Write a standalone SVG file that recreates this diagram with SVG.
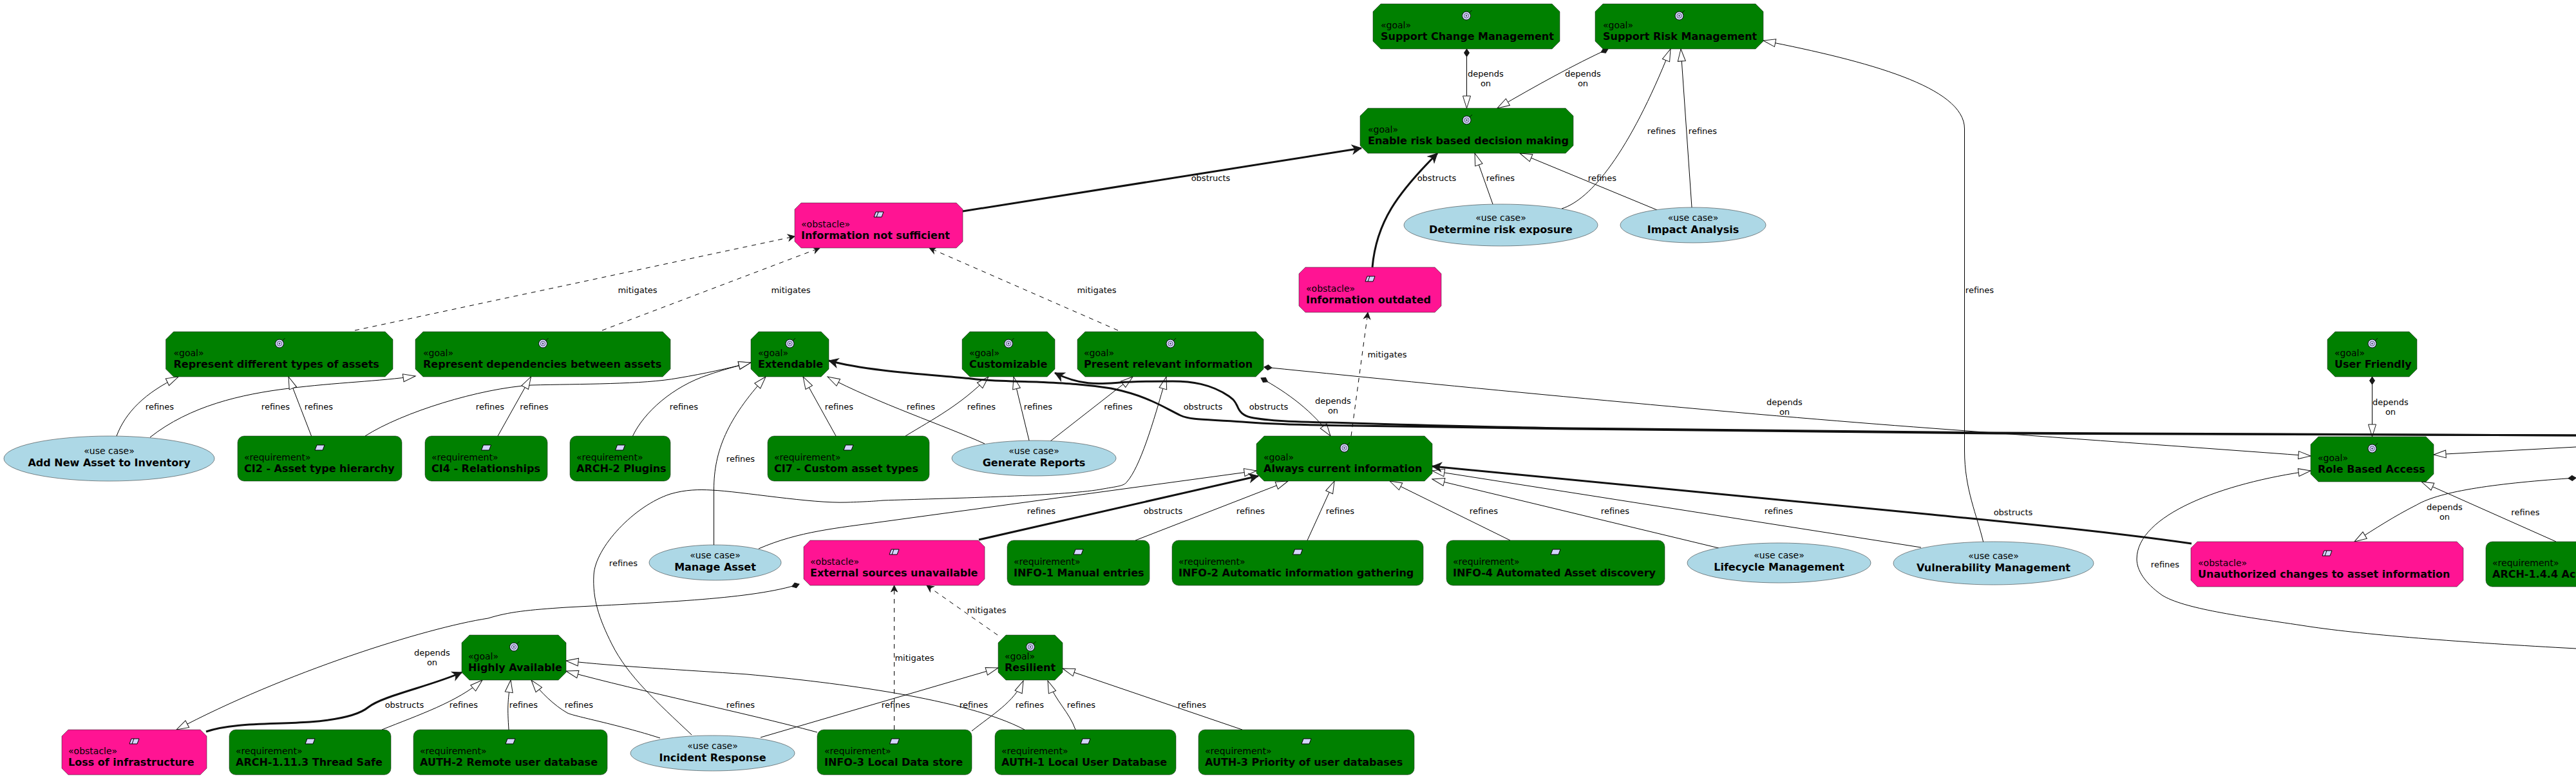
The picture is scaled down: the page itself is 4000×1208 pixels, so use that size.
<svg xmlns="http://www.w3.org/2000/svg" width="4000" height="1208" viewBox="0 0 4000 1208">
<style>
text{font-family:"DejaVu Sans",sans-serif;fill:#000}
.st{font-size:14px}
.nm{font-size:16px;font-weight:bold}
.c{text-anchor:middle}
.lb{font-size:13px;text-anchor:middle}
.goal,.req{fill:#008000;stroke:#181818;stroke-width:.5}
.obs{fill:#FF1493;stroke:#181818;stroke-width:.5}
.uc{fill:#ADD8E6;stroke:#181818;stroke-width:.5}
.l{fill:none;stroke:#000;stroke-width:1}
.ref{marker-end:url(#tri)}
.dep{marker-start:url(#dia);marker-end:url(#tri)}
.mit{stroke-dasharray:7 7;marker-end:url(#open)}
.obt{fill:none;stroke:#111;stroke-width:3;marker-end:url(#openb)}
</style>
<defs>
<marker id="tri" markerUnits="userSpaceOnUse" markerWidth="22" markerHeight="16" refX="20" refY="7.5" orient="auto" overflow="visible"><path d="M20,7.5L1,1.5V13.5Z" fill="#fff" stroke="#181818" stroke-width="1"/></marker>
<marker id="dia" markerUnits="userSpaceOnUse" markerWidth="14" markerHeight="10" refX="0" refY="5" orient="auto" overflow="visible"><path d="M0,5L6,1L12,5L6,9Z" fill="#181818" stroke="#181818"/></marker>
<marker id="open" markerUnits="userSpaceOnUse" markerWidth="14" markerHeight="14" refX="11" refY="6" orient="auto" overflow="visible"><path d="M11,6L1,1L4,6L1,11Z" fill="#181818" stroke="#181818"/></marker>
<marker id="openb" markerUnits="userSpaceOnUse" markerWidth="18" markerHeight="18" refX="15" refY="8" orient="auto" overflow="visible"><path d="M15,8L1,1L5,8L1,15Z" fill="#181818" stroke="#181818"/></marker>
<g id="ig"><circle r="6.5" fill="#D4D4FF" stroke="#000" stroke-width=".9"/><circle r="3.6" fill="none" stroke="#445" stroke-width=".9"/><circle r="1.2" fill="#445"/><path d="M4.5,-4.5L8.5,-8.5" stroke="#000" stroke-width=".8" fill="none"/></g>
<path id="ir" d="M-4.5,-4H7.5L4.5,4H-7.5Z" fill="#D4D4FF" stroke="#000"/>
<g id="io"><path d="M-4.5,-4H7.5L4.5,4H-7.5Z" fill="#D4D4FF" stroke="#000"/><path d="M-.5,-4L-3.5,4" stroke="#000" fill="none"/></g>
</defs>
<g id="connectors">
<path class="l dep" d="M2277.5,76V168"/>
<path class="l dep" d="M2497,76C2445,100 2385,133 2325,168"/>
<path class="l ref" d="M2318,317L2290,238"/>
<path class="l ref" d="M2573,326L2360,238"/>
<path class="l ref" d="M2425,324C2470,310 2530,237 2594,76"/>
<path class="l ref" d="M2627,322L2610,76"/>
<path class="l ref" d="M3080,843C3070,800 3050.5,760 3050.5,700V200C3050.5,135 2900,95 2738,63"/>
<path class="l ref" d="M181,677C195,640 225,610 277,585"/>
<path class="l ref" d="M233,679C295,630 375,612 449,603C520,594 590,592 645,584"/>
<path class="l ref" d="M483.5,677L448,585"/>
<path class="l ref" d="M567,677C625,640 745,603 825,598C900,596 1000,597 1053,587C1095,580 1130,572 1166,563"/>
<path class="l ref" d="M773,677L824.5,585"/>
<path class="l ref" d="M982.5,677C1000,640 1045,600 1100,582C1120,575 1145,568 1166,563"/>
<path class="l ref" d="M1108.5,847V760C1108.5,700 1130,650 1189,585"/>
<path class="l ref" d="M1298,677L1247,585"/>
<path class="l ref" d="M1529,689C1470,662 1360,625 1285,585"/>
<path class="l ref" d="M1406,677C1450,650 1490,630 1535,585"/>
<path class="l ref" d="M1598,684L1574,585"/>
<path class="l ref" d="M1631,685L1759,585"/>
<path class="l ref" d="M1074,1141C1020,1090 975,1050 950,1000C930,960 920,930 922,893C924,850 985,785 1041,767C1065,760 1085,760 1105,761C1150,763 1260,782 1315,780C1345,779 1360,778 1371,777C1460,774 1650,770 1708,760C1735,755 1745,755 1750,748C1770,725 1790,660 1811,585"/>
<path class="l ref" d="M1178,852C1240,825 1300,820 1371,810L1951,731"/>
<path class="l ref" d="M1763,839L2000,747"/>
<path class="l ref" d="M2030,839L2072,747"/>
<path class="l ref" d="M2345,839L2158,747"/>
<path class="l ref" d="M2669,851L2224,744"/>
<path class="l ref" d="M2983,850L2224,731"/>
<path class="l dep" d="M1963,570C2300,604 2700,643 3000,665C3200,680 3400,694 3588,708"/>
<path class="l dep" d="M1958,587C2000,610 2040,640 2066,677"/>
<path class="l dep" d="M3683.5,585V678"/>
<path class="l ref" d="M4000,694L3779,706"/>
<path class="l ref" d="M4000,1007C3830,998 3660,985 3574,971C3480,957 3390,945 3357,924C3330,905 3318,885 3318,868C3318,800 3450,750 3588,731"/>
<path class="l dep" d="M4000,742C3880,750 3790,762 3752.5,784C3715,803 3690,820 3656,841"/>
<path class="l ref" d="M3969,841L3760,748"/>
<path class="l dep" d="M1241,907C1170,930 1030,935 880,943C820,947 790,950 758,960C660,975 440,1045 274,1133"/>
<path class="l ref" d="M593,1133C650,1110 710,1090 749,1056"/>
<path class="l ref" d="M790,1133C788,1100 788,1090 793,1056"/>
<path class="l ref" d="M1025,1146C960,1125 890,1112 881,1107C860,1095 840,1075 825,1056"/>
<path class="l ref" d="M1591,1133C1500,1085 1300,1060 1160,1047C1060,1040 960,1035 879,1026"/>
<path class="l ref" d="M1269,1137C1150,1105 1000,1075 879,1042"/>
<path class="l ref" d="M1181,1145L1550,1037"/>
<path class="l ref" d="M1509,1135C1540,1110 1575,1090 1589,1057"/>
<path class="l ref" d="M1670,1133C1660,1105 1640,1090 1627,1057"/>
<path class="l ref" d="M1929,1133L1650,1038"/>
<path class="l mit" d="M551,513L1234,367"/>
<path class="l mit" d="M935,513L1273,385"/>
<path class="l mit" d="M1736,513L1443,385"/>
<path class="l mit" d="M2098,677L2124,485"/>
<path class="l mit" d="M1388.5,1133V909"/>
<path class="l mit" d="M1549,986L1439,909"/>
<path class="obt" d="M1495,328L2114,230"/>
<path class="obt" d="M2131,415C2137,345 2170,300 2232,238"/>
<path class="obt" d="M4000,676L3100,673L2436,666C2300,664 2200,663 2100,661C2020,660 1965,658 1929,655C1880,651 1850,653 1833,645C1815,636 1805,630 1789,623C1765,612 1740,606 1725,603C1680,596 1650,595 1610,593C1570,592 1540,592 1508,588C1450,582 1350,577 1287,560"/>
<path class="obt" d="M4000,676L3100,672L2436,665C2300,663 2200,660 2100,657C2030,655 1975,655 1942,648C1930,645 1925,640 1921,630C1917,622 1915,620 1908,615C1880,596 1850,592 1821,592C1790,592 1765,592 1738,594C1710,596 1680,600 1638,579"/>
<path class="obt" d="M3403,844C3270,825 3130,812 3000,799L2224,724"/>
<path class="obt" d="M1520,838L1954,739"/>
<path class="obt" d="M320,1136C360,1122 420,1125 481,1121C520,1118 555,1112 572,1098C595,1080 670,1065 717,1044"/>
</g>
<g id="labels">
<text class="lb" x="2307" y="119">depends</text><text class="lb" x="2307" y="134">on</text>
<text class="lb" x="2458" y="119">depends</text><text class="lb" x="2458" y="134">on</text>
<text class="lb" x="2580" y="208">refines</text><text class="lb" x="2644" y="208">refines</text>
<text class="lb" x="1880" y="281">obstructs</text><text class="lb" x="2231" y="281">obstructs</text>
<text class="lb" x="2330" y="281">refines</text><text class="lb" x="2488" y="281">refines</text>
<text class="lb" x="3074" y="455">refines</text>
<text class="lb" x="990" y="455">mitigates</text><text class="lb" x="1228" y="455">mitigates</text><text class="lb" x="1703" y="455">mitigates</text><text class="lb" x="2154" y="555">mitigates</text>
<text class="lb" x="248" y="636">refines</text><text class="lb" x="428" y="636">refines</text><text class="lb" x="495" y="636">refines</text><text class="lb" x="761" y="636">refines</text><text class="lb" x="829.5" y="636">refines</text><text class="lb" x="1062" y="636">refines</text>
<text class="lb" x="1303" y="636">refines</text><text class="lb" x="1430" y="636">refines</text><text class="lb" x="1524" y="636">refines</text><text class="lb" x="1612" y="636">refines</text><text class="lb" x="1736.5" y="636">refines</text>
<text class="lb" x="1868" y="636">obstructs</text><text class="lb" x="1970" y="636">obstructs</text>
<text class="lb" x="2070" y="627">depends</text><text class="lb" x="2070" y="642">on</text>
<text class="lb" x="2771" y="629">depends</text><text class="lb" x="2771" y="644">on</text>
<text class="lb" x="3712" y="629">depends</text><text class="lb" x="3712" y="644">on</text>
<text class="lb" x="1150" y="717">refines</text>
<text class="lb" x="1617" y="798">refines</text><text class="lb" x="1806" y="798">obstructs</text><text class="lb" x="1942" y="798">refines</text><text class="lb" x="2081" y="798">refines</text><text class="lb" x="2304" y="798">refines</text><text class="lb" x="2508" y="798">refines</text><text class="lb" x="2762" y="798">refines</text><text class="lb" x="3126" y="800">obstructs</text>
<text class="lb" x="3796" y="792">depends</text><text class="lb" x="3796" y="807">on</text>
<text class="lb" x="3921.5" y="800">refines</text><text class="lb" x="3362" y="881">refines</text>
<text class="lb" x="968" y="879">refines</text>
<text class="lb" x="1532" y="952">mitigates</text><text class="lb" x="1420" y="1026">mitigates</text>
<text class="lb" x="671" y="1018">depends</text><text class="lb" x="671" y="1033">on</text>
<text class="lb" x="628" y="1099">obstructs</text><text class="lb" x="720" y="1099">refines</text><text class="lb" x="813" y="1099">refines</text><text class="lb" x="899" y="1099">refines</text><text class="lb" x="1150" y="1099">refines</text><text class="lb" x="1391" y="1099">refines</text><text class="lb" x="1512" y="1099">refines</text><text class="lb" x="1599" y="1099">refines</text><text class="lb" x="1679" y="1099">refines</text><text class="lb" x="1851" y="1099">refines</text>
</g>
<g id="n-scm"><polygon class="goal" points="2144,6 2410,6 2422,18 2422,64 2410,76 2144,76 2132,64 2132,18"/><use href="#ig" x="2277" y="24.5"/><text class="st" x="2144" y="44">«goal»</text><text class="nm" x="2144" y="62">Support Change Management</text></g>
<g id="n-srm"><polygon class="goal" points="2489,6 2726,6 2738,18 2738,64 2726,76 2489,76 2477,64 2477,18"/><use href="#ig" x="2607.5" y="24.5"/><text class="st" x="2489" y="44">«goal»</text><text class="nm" x="2489" y="62">Support Risk Management</text></g>
<g id="n-enable"><polygon class="goal" points="2124,168 2431,168 2443,180 2443,226 2431,238 2124,238 2112,226 2112,180"/><use href="#ig" x="2277.5" y="186.5"/><text class="st" x="2124" y="206">«goal»</text><text class="nm" x="2124" y="224">Enable risk based decision making</text></g>
<g id="n-rdt"><polygon class="goal" points="269.5,515 598,515 610,527 610,573 598,585 269.5,585 257.5,573 257.5,527"/><use href="#ig" x="434" y="533.5"/><text class="st" x="269.5" y="553">«goal»</text><text class="nm" x="269.5" y="571">Represent different types of assets</text></g>
<g id="n-rdb"><polygon class="goal" points="657,515 1029,515 1041,527 1041,573 1029,585 657,585 645,573 645,527"/><use href="#ig" x="843" y="533.5"/><text class="st" x="657" y="553">«goal»</text><text class="nm" x="657" y="571">Represent dependencies between assets</text></g>
<g id="n-ext"><polygon class="goal" points="1178,515 1275,515 1287,527 1287,573 1275,585 1178,585 1166,573 1166,527"/><use href="#ig" x="1226.5" y="533.5"/><text class="st" x="1177" y="553">«goal»</text><text class="nm" x="1177" y="571">Extendable</text></g>
<g id="n-cus"><polygon class="goal" points="1506,515 1626,515 1638,527 1638,573 1626,585 1506,585 1494,573 1494,527"/><use href="#ig" x="1566" y="533.5"/><text class="st" x="1505" y="553">«goal»</text><text class="nm" x="1505" y="571">Customizable</text></g>
<g id="n-pri"><polygon class="goal" points="1685,515 1950,515 1962,527 1962,573 1950,585 1685,585 1673,573 1673,527"/><use href="#ig" x="1817.5" y="533.5"/><text class="st" x="1683" y="553">«goal»</text><text class="nm" x="1683" y="571">Present relevant information</text></g>
<g id="n-aci"><polygon class="goal" points="1963,677 2212,677 2224,689 2224,735 2212,747 1963,747 1951,735 1951,689"/><use href="#ig" x="2087.5" y="695.5"/><text class="st" x="1962" y="715">«goal»</text><text class="nm" x="1962" y="733">Always current information</text></g>
<g id="n-uf"><polygon class="goal" points="3626,515 3741,515 3753,527 3753,573 3741,585 3626,585 3614,573 3614,527"/><use href="#ig" x="3683.5" y="533.5"/><text class="st" x="3625" y="553">«goal»</text><text class="nm" x="3625" y="571">User Friendly</text></g>
<g id="n-rba"><polygon class="goal" points="3600,678 3767,678 3779,690 3779,736 3767,748 3600,748 3588,736 3588,690"/><use href="#ig" x="3683.5" y="696.5"/><text class="st" x="3599" y="716">«goal»</text><text class="nm" x="3599" y="734">Role Based Access</text></g>
<g id="n-ha"><polygon class="goal" points="729,986 867,986 879,998 879,1044 867,1056 729,1056 717,1044 717,998"/><use href="#ig" x="798" y="1004.5"/><text class="st" x="727" y="1024">«goal»</text><text class="nm" x="727" y="1042">Highly Available</text></g>
<g id="n-res"><polygon class="goal" points="1562,986 1638,986 1650,998 1650,1044 1638,1056 1562,1056 1550,1044 1550,998"/><use href="#ig" x="1600" y="1004.5"/><text class="st" x="1560" y="1024">«goal»</text><text class="nm" x="1560" y="1042">Resilient</text></g>
<g id="n-ins"><polygon class="obs" points="1244,315 1485,315 1495,325 1495,375 1485,385 1244,385 1234,375 1234,325"/><use href="#io" x="1364.5" y="333"/><text class="st" x="1244" y="353">«obstacle»</text><text class="nm" x="1244" y="371">Information not sufficient</text></g>
<g id="n-iou"><polygon class="obs" points="2027,415 2228,415 2238,425 2238,475 2228,485 2027,485 2017,475 2017,425"/><use href="#io" x="2127.5" y="433"/><text class="st" x="2028" y="453">«obstacle»</text><text class="nm" x="2028" y="471">Information outdated</text></g>
<g id="n-exs"><polygon class="obs" points="1258,839 1519,839 1529,849 1529,899 1519,909 1258,909 1248,899 1248,849"/><use href="#io" x="1388.5" y="857"/><text class="st" x="1258" y="877">«obstacle»</text><text class="nm" x="1258" y="895">External sources unavailable</text></g>
<g id="n-loi"><polygon class="obs" points="106,1133 311,1133 321,1143 321,1193 311,1203 106,1203 96,1193 96,1143"/><use href="#io" x="208.5" y="1151"/><text class="st" x="106" y="1171">«obstacle»</text><text class="nm" x="106" y="1189">Loss of infrastructure</text></g>
<g id="n-uch"><polygon class="obs" points="3412,841 3815,841 3825,851 3825,901 3815,911 3412,911 3402,901 3402,851"/><use href="#io" x="3613.5" y="859"/><text class="st" x="3413" y="879">«obstacle»</text><text class="nm" x="3413" y="897">Unauthorized changes to asset information</text></g>
<g id="n-ci2"><rect class="req" x="369" y="677" width="255" height="70" rx="10"/><use href="#ir" x="496.5" y="695"/><text class="st" x="379" y="715">«requirement»</text><text class="nm" x="379" y="733">CI2 - Asset type hierarchy</text></g>
<g id="n-ci4"><rect class="req" x="660" y="677" width="190" height="70" rx="10"/><use href="#ir" x="755" y="695"/><text class="st" x="670" y="715">«requirement»</text><text class="nm" x="670" y="733">CI4 - Relationships</text></g>
<g id="n-arch2"><rect class="req" x="885" y="677" width="156" height="70" rx="10"/><use href="#ir" x="963" y="695"/><text class="st" x="895" y="715">«requirement»</text><text class="nm" x="895" y="733">ARCH-2 Plugins</text></g>
<g id="n-ci7"><rect class="req" x="1192" y="677" width="251" height="70" rx="10"/><use href="#ir" x="1317.5" y="695"/><text class="st" x="1202" y="715">«requirement»</text><text class="nm" x="1202" y="733">CI7 - Custom asset types</text></g>
<g id="n-info1"><rect class="req" x="1564" y="839" width="221" height="70" rx="10"/><use href="#ir" x="1674.5" y="857"/><text class="st" x="1574" y="877">«requirement»</text><text class="nm" x="1574" y="895">INFO-1 Manual entries</text></g>
<g id="n-info2"><rect class="req" x="1820" y="839" width="390" height="70" rx="10"/><use href="#ir" x="2015" y="857"/><text class="st" x="1830" y="877">«requirement»</text><text class="nm" x="1830" y="895">INFO-2 Automatic information gathering</text></g>
<g id="n-info4"><rect class="req" x="2246" y="839" width="339" height="70" rx="10"/><use href="#ir" x="2415.5" y="857"/><text class="st" x="2256" y="877">«requirement»</text><text class="nm" x="2256" y="895">INFO-4 Automated Asset discovery</text></g>
<g id="n-arch144"><rect class="req" x="3860" y="841" width="170" height="70" rx="10"/><text class="st" x="3870" y="879">«requirement»</text><text class="nm" x="3870" y="897">ARCH-1.4.4 Ac</text></g>
<g id="n-arch1113"><rect class="req" x="356" y="1133" width="251" height="70" rx="10"/><use href="#ir" x="481.5" y="1151"/><text class="st" x="366" y="1171">«requirement»</text><text class="nm" x="366" y="1189">ARCH-1.11.3 Thread Safe</text></g>
<g id="n-auth2"><rect class="req" x="642" y="1133" width="301" height="70" rx="10"/><use href="#ir" x="792.5" y="1151"/><text class="st" x="652" y="1171">«requirement»</text><text class="nm" x="652" y="1189">AUTH-2 Remote user database</text></g>
<g id="n-info3"><rect class="req" x="1269" y="1133" width="240" height="70" rx="10"/><use href="#ir" x="1389" y="1151"/><text class="st" x="1280" y="1171">«requirement»</text><text class="nm" x="1280" y="1189">INFO-3 Local Data store</text></g>
<g id="n-auth1"><rect class="req" x="1545" y="1133" width="281" height="70" rx="10"/><use href="#ir" x="1685.5" y="1151"/><text class="st" x="1555" y="1171">«requirement»</text><text class="nm" x="1555" y="1189">AUTH-1 Local User Database</text></g>
<g id="n-auth3"><rect class="req" x="1861" y="1133" width="335" height="70" rx="10"/><use href="#ir" x="2028.5" y="1151"/><text class="st" x="1871" y="1171">«requirement»</text><text class="nm" x="1871" y="1189">AUTH-3 Priority of user databases</text></g>
<g id="n-add"><ellipse class="uc" cx="169.5" cy="712" rx="163.5" ry="35"/><text class="st c" x="169.5" y="705">«use case»</text><text class="nm c" x="169.5" y="724">Add New Asset to Inventory</text></g>
<g id="n-gen"><ellipse class="uc" cx="1605.5" cy="711.5" rx="127.5" ry="27.5"/><text class="st c" x="1605.5" y="704.5">«use case»</text><text class="nm c" x="1605.5" y="723.5">Generate Reports</text></g>
<g id="n-det"><ellipse class="uc" cx="2330.5" cy="349.5" rx="150.5" ry="32.5"/><text class="st c" x="2330.5" y="342.5">«use case»</text><text class="nm c" x="2330.5" y="361.5">Determine risk exposure</text></g>
<g id="n-imp"><ellipse class="uc" cx="2629" cy="349.5" rx="113" ry="27.5"/><text class="st c" x="2629" y="342.5">«use case»</text><text class="nm c" x="2629" y="361.5">Impact Analysis</text></g>
<g id="n-man"><ellipse class="uc" cx="1110.5" cy="873.5" rx="102.5" ry="27.5"/><text class="st c" x="1110.5" y="866.5">«use case»</text><text class="nm c" x="1110.5" y="885.5">Manage Asset</text></g>
<g id="n-lif"><ellipse class="uc" cx="2762.5" cy="874" rx="142.5" ry="31"/><text class="st c" x="2762.5" y="867">«use case»</text><text class="nm c" x="2762.5" y="886">Lifecycle Management</text></g>
<g id="n-vul"><ellipse class="uc" cx="3095.5" cy="874.5" rx="155.5" ry="33.5"/><text class="st c" x="3095.5" y="867.5">«use case»</text><text class="nm c" x="3095.5" y="886.5">Vulnerability Management</text></g>
<g id="n-inc"><ellipse class="uc" cx="1106.5" cy="1169.5" rx="127.5" ry="27.5"/><text class="st c" x="1106.5" y="1162.5">«use case»</text><text class="nm c" x="1106.5" y="1181.5">Incident Response</text></g>
</svg>
